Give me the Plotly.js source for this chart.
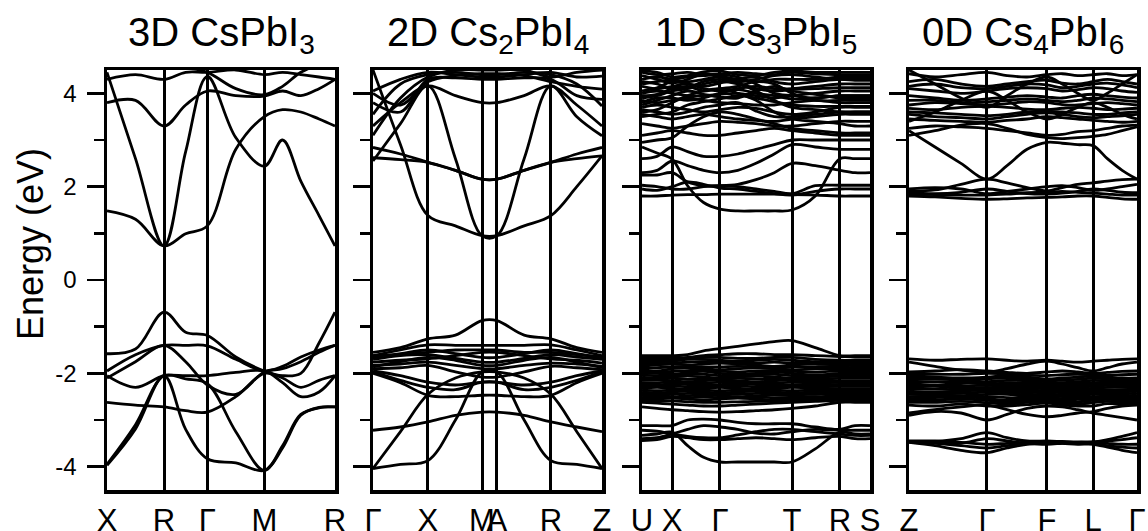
<!DOCTYPE html>
<html><head><meta charset="utf-8">
<script src="https://cdn.plot.ly/plotly-3.0.1.min.js"></script>
<style>html,body{margin:0;padding:0;background:#fff}#plot{width:1148px;height:531px}</style>
</head><body><div id="plot"></div><script>
// ---------- titles & labels ----------
const panelTitles = ['3D CsPbI<sub>3</sub>', '2D Cs<sub>2</sub>PbI<sub>4</sub>', '1D Cs<sub>3</sub>PbI<sub>5</sub>', '0D Cs<sub>4</sub>PbI<sub>6</sub>'];
const yTitle = 'Energy (eV)';
const yTickVals = [-4, -2, 0, 2, 4];
const yTickText = ['-4', '-2', '0', '2', '4'];
const yMinorVals = [-3, -1, 1, 3];

// ---------- 3D CsPbI3 ----------
const hs3D = [0, 0.25, 0.44, 0.69, 1];
const hsLab3D = ['X', 'R', 'Γ', 'M', 'R'];
const k3D = [0, 0.125, 0.25, 0.345, 0.44, 0.565, 0.69, 0.77, 0.85, 0.93, 1.0];
const bands3D = [
  [-1.58, -1.48, -0.69, -1.12, -1.19, -1.65, -1.95, -2.05, -2.0, -1.35, -0.69],
  [-1.95, -1.6, -1.40, -1.40, -1.41, -1.7, -1.95, -1.85, -1.65, -1.5, -1.40],
  [-2.05, -2.3, -2.05, -2.05, -2.05, -1.98, -1.95, -2.2, -2.5, -2.4, -2.05],
  [-2.1, -1.75, -1.40, -1.75, -2.25, -2.45, -1.97, -1.9, -1.75, -1.55, -1.40],
  [-3.97, -3.19, -2.05, -3.2, -3.83, -3.92, -4.08, -3.6, -2.9, -2.73, -2.72],
  [-3.95, -3.1, -2.05, -2.12, -2.22, -3.25, -4.08, -3.55, -2.88, -2.74, -2.72],
  [-2.62, -2.68, -2.72, -2.8, -2.83, -2.5, -2.0, -2.1, -2.3, -2.15, -2.05],
  [1.48, 1.3, 0.73, 0.99, 1.16, 2.8, 3.5, 3.65, 3.6, 3.45, 3.3],
  [4.45, 2.6, 0.73, 2.75, 4.36, 3.05, 2.44, 3.0, 2.12, 1.38, 0.73],
  [3.8, 3.85, 3.3, 3.75, 4.05, 3.95, 3.94, 4.05, 3.95, 4.1, 4.3],
  [4.3, 4.4, 4.3, 4.45, 4.45, 4.5, 4.4, 4.45, 4.4, 4.35, 4.3],
  [4.6, 4.6, 4.6, 4.55, 4.45, 4.1, 3.97, 4.15, 4.45, 4.6, 4.6]
];

// ---------- 2D Cs2PbI4 ----------
const hs2D = [0, 0.24, 0.476, 0.541, 0.777, 1];
const hsLab2D = ['Γ', 'X', 'M', 'A', 'R', 'Z'];
const k2D = [0, 0.12, 0.24, 0.36, 0.476, 0.541, 0.66, 0.777, 0.89, 1.0];
const bands2D = [
  [4.5, 2.9, 1.38, 1.16, 0.95, 0.95, 1.16, 1.38, 2.0, 2.66],
  [2.55, 3.35, 4.16, 2.6, 0.95, 0.95, 2.6, 4.16, 3.5, 3.09],
  [2.62, 2.58, 2.52, 2.35, 2.16, 2.16, 2.35, 2.52, 2.6, 2.66],
  [3.3, 3.8, 4.16, 3.95, 3.80, 3.80, 3.95, 4.16, 3.75, 3.3],
  [2.84, 2.7, 2.52, 2.35, 2.16, 2.16, 2.35, 2.52, 2.7, 2.84],
  [3.55, 4.2, 4.4, 4.45, 4.4, 4.4, 4.45, 4.4, 4.2, 3.73],
  [3.8, 3.6, 4.3, 4.33, 4.3, 4.3, 4.33, 4.3, 3.95, 3.87],
  [4.0, 3.75, 4.25, 4.38, 4.42, 4.42, 4.38, 4.25, 4.15, 4.09],
  [4.05, 4.3, 4.45, 4.4, 4.35, 4.35, 4.4, 4.45, 4.35, 4.37],
  [3.1, 3.9, 4.35, 4.5, 4.5, 4.5, 4.5, 4.35, 4.45, 4.5],
  [-1.55, -1.45, -1.26, -1.18, -0.87, -0.87, -1.18, -1.26, -1.45, -1.55],
  [-1.62, -1.5, -1.39, -1.4, -1.4, -1.4, -1.4, -1.39, -1.5, -1.62],
  [-1.62, -1.6, -1.55, -1.5, -1.5, -1.5, -1.55, -1.55, -1.6, -1.65],
  [-1.7, -1.62, -1.6, -1.68, -1.76, -1.76, -1.68, -1.6, -1.65, -1.7],
  [-1.76, -1.72, -1.69, -1.62, -1.55, -1.55, -1.62, -1.69, -1.72, -1.78],
  [-1.83, -1.8, -1.76, -1.83, -1.9, -1.9, -1.83, -1.78, -1.8, -1.85],
  [-1.9, -1.88, -1.83, -1.97, -2.08, -2.08, -1.97, -1.85, -1.88, -1.92],
  [-1.97, -2.15, -2.3, -2.35, -2.19, -2.19, -2.35, -2.3, -2.15, -1.97],
  [-4.04, -3.25, -2.45, -2.1, -1.97, -1.97, -2.1, -2.45, -3.25, -4.04],
  [-4.04, -3.95, -3.87, -3.0, -1.97, -1.97, -3.0, -3.87, -3.95, -4.04],
  [-3.22, -3.15, -3.04, -2.9, -2.83, -2.83, -2.9, -3.04, -3.15, -3.25],
  [-2.0, -2.2, -2.47, -2.5, -2.47, -2.47, -2.5, -2.47, -2.2, -2.0],
  [-1.95, -2.05, -2.19, -2.25, -2.19, -2.19, -2.25, -2.19, -2.05, -1.95],
  [-1.66, -1.58, -1.5, -1.58, -1.66, -1.66, -1.58, -1.5, -1.58, -1.68],
  [-1.86, -1.75, -1.66, -1.72, -1.83, -1.83, -1.72, -1.66, -1.76, -1.88]
];

// ---------- 1D Cs3PbI5 ----------
const hs1D = [0, 0.132, 0.342, 0.658, 0.868, 1];
const hsLab1D = ['U', 'X', 'Γ', 'T', 'R', 'S'];
const k1D = [0, 0.066, 0.132, 0.20, 0.27, 0.342, 0.42, 0.50, 0.58, 0.658, 0.76, 0.868, 0.934, 1.0];
const bands1D = [
  [2.85, 2.72, 2.59, 2.02, 1.66, 1.52, 1.48, 1.48, 1.48, 1.5, 1.8, 2.6, 2.6, 2.6],
  [1.80, 1.80, 1.82, 1.83, 1.83, 1.84, 1.84, 1.84, 1.84, 1.83, 1.82, 1.80, 1.80, 1.80],
  [2.03, 2.0, 1.95, 1.95, 2.0, 2.02, 2.0, 1.95, 1.9, 1.85, 2.02, 2.03, 2.03, 2.03],
  [1.95, 1.92, 2.0, 2.1, 2.05, 1.97, 1.95, 1.9, 1.85, 1.82, 1.9, 1.95, 1.95, 1.95],
  [2.25, 2.25, 2.3, 2.1, 2.02, 2.02, 2.05, 2.15, 2.3, 2.5, 2.45, 2.35, 2.3, 2.3],
  [2.3, 2.35, 2.55, 2.45, 2.35, 2.3, 2.35, 2.5, 2.7, 2.9, 2.85, 2.8, 2.8, 2.8],
  [2.6, 2.65, 2.85, 2.75, 2.65, 2.65, 2.7, 2.8, 2.9, 3.0, 3.0, 3.0, 3.0, 3.0],
  [3.1, 3.15, 3.2, 3.15, 3.1, 3.1, 3.15, 3.2, 3.25, 3.2, 3.15, 3.1, 3.1, 3.1],
  [3.35, 3.3, 3.25, 3.3, 3.35, 3.4, 3.38, 3.35, 3.3, 3.3, 3.35, 3.4, 3.4, 3.4],
  [3.55, 3.5, 3.45, 3.5, 3.55, 3.5, 3.45, 3.42, 3.4, 3.45, 3.5, 3.55, 3.55, 3.55],
  [3.7, 3.75, 3.7, 3.65, 3.6, 3.65, 3.7, 3.68, 3.6, 3.55, 3.6, 3.7, 3.7, 3.7],
  [3.85, 3.8, 3.85, 3.9, 3.85, 3.8, 3.78, 3.75, 3.75, 3.8, 3.85, 3.8, 3.8, 3.8],
  [4.0, 4.05, 4.0, 3.95, 3.95, 3.98, 4.0, 3.95, 3.9, 3.95, 4.0, 4.05, 4.05, 4.05],
  [4.15, 4.1, 4.15, 4.2, 4.1, 4.05, 4.1, 4.15, 4.1, 4.1, 4.15, 4.2, 4.2, 4.2],
  [4.3, 4.35, 4.3, 4.25, 4.3, 4.35, 4.3, 4.25, 4.3, 4.3, 4.3, 4.35, 4.35, 4.35],
  [4.45, 4.4, 4.42, 4.45, 4.4, 4.42, 4.45, 4.42, 4.4, 4.45, 4.42, 4.4, 4.4, 4.4],
  [4.2, 4.25, 4.3, 4.35, 4.38, 4.4, 4.35, 4.2, 4.0, 3.95, 3.9, 3.95, 3.95, 3.95],
  [3.9, 3.95, 4.05, 4.1, 4.2, 4.25, 4.2, 4.05, 3.85, 3.7, 3.65, 3.6, 3.6, 3.6],
  [3.6, 3.65, 3.8, 3.95, 4.05, 4.1, 4.0, 3.85, 3.6, 3.45, 3.4, 3.35, 3.3, 3.3],
  [2.95, 3.0, 3.05, 3.3, 3.5, 3.6, 3.55, 3.45, 3.35, 3.25, 3.2, 3.15, 3.15, 3.15],
  [4.38, 4.3, 4.22, 4.3, 4.42, 4.35, 4.25, 4.3, 4.38, 4.4, 4.35, 4.3, 4.3, 4.3],
  [4.05, 4.12, 4.25, 4.2, 4.15, 4.22, 4.3, 4.35, 4.25, 4.2, 4.25, 4.3, 4.28, 4.28],
  [3.75, 3.85, 3.95, 4.05, 3.98, 3.92, 3.9, 4.05, 4.15, 4.05, 3.98, 3.9, 3.9, 3.9],
  [3.5, 3.55, 3.6, 3.75, 3.82, 3.88, 3.95, 3.9, 3.82, 3.75, 3.72, 3.72, 3.72, 3.72],
  [4.48, 4.45, 4.35, 4.38, 4.46, 4.48, 4.4, 4.38, 4.45, 4.48, 4.45, 4.45, 4.45, 4.45],
  [4.25, 4.2, 4.1, 4.12, 4.25, 4.3, 4.22, 4.1, 4.05, 4.08, 4.1, 4.12, 4.12, 4.12],
  [3.95, 3.98, 4.1, 4.15, 4.05, 4.1, 4.15, 4.25, 4.2, 4.0, 3.85, 3.85, 3.85, 3.85],
  [3.8, 3.9, 3.9, 3.85, 3.9, 4.0, 4.08, 4.0, 3.95, 3.88, 3.9, 3.95, 3.95, 3.95],
  [3.65, 3.6, 3.55, 3.6, 3.7, 3.75, 3.8, 3.62, 3.5, 3.5, 3.55, 3.6, 3.6, 3.6],
  [-1.62, -1.62, -1.62, -1.6, -1.52, -1.47, -1.42, -1.37, -1.32, -1.30, -1.45, -1.62, -1.62, -1.62],
  [-1.68, -1.68, -1.66, -1.66, -1.62, -1.6, -1.58, -1.58, -1.6, -1.6, -1.62, -1.64, -1.65, -1.65],
  [-1.76, -1.76, -1.74, -1.7, -1.7, -1.72, -1.74, -1.72, -1.7, -1.72, -1.75, -1.76, -1.76, -1.76],
  [-1.85, -1.82, -1.8, -1.82, -1.8, -1.78, -1.8, -1.82, -1.85, -1.82, -1.8, -1.82, -1.84, -1.84],
  [-1.92, -1.95, -1.9, -1.88, -1.9, -1.92, -1.9, -1.88, -1.9, -1.93, -1.9, -1.9, -1.92, -1.92],
  [-2.0, -2.0, -2.02, -1.98, -1.96, -2.0, -2.02, -2.0, -1.97, -2.0, -2.03, -2.0, -1.98, -1.98],
  [-2.08, -2.1, -2.08, -2.06, -2.08, -2.1, -2.08, -2.06, -2.08, -2.1, -2.08, -2.06, -2.06, -2.06],
  [-2.15, -2.14, -2.16, -2.18, -2.16, -2.14, -2.16, -2.18, -2.16, -2.14, -2.15, -2.16, -2.16, -2.16],
  [-2.24, -2.25, -2.22, -2.24, -2.26, -2.24, -2.22, -2.24, -2.26, -2.24, -2.23, -2.24, -2.24, -2.24],
  [-2.32, -2.3, -2.32, -2.34, -2.32, -2.3, -2.32, -2.34, -2.32, -2.3, -2.32, -2.33, -2.33, -2.33],
  [-2.4, -2.42, -2.4, -2.38, -2.4, -2.42, -2.4, -2.38, -2.4, -2.42, -2.4, -2.4, -2.4, -2.4],
  [-2.48, -2.47, -2.5, -2.48, -2.46, -2.48, -2.5, -2.48, -2.46, -2.48, -2.5, -2.48, -2.48, -2.48],
  [-2.56, -2.55, -2.53, -2.55, -2.57, -2.55, -2.53, -2.55, -2.57, -2.55, -2.53, -2.5, -2.5, -2.5],
  [-2.72, -2.75, -2.78, -2.8, -2.82, -2.83, -2.82, -2.8, -2.78, -2.75, -2.7, -2.62, -2.62, -2.62],
  [-2.62, -2.64, -2.66, -2.68, -2.7, -2.7, -2.68, -2.66, -2.64, -2.62, -2.6, -2.58, -2.58, -2.58],
  [-1.72, -1.72, -1.7, -1.68, -1.66, -1.66, -1.68, -1.68, -1.66, -1.66, -1.7, -1.72, -1.72, -1.72],
  [-1.8, -1.8, -1.78, -1.76, -1.75, -1.76, -1.78, -1.78, -1.76, -1.78, -1.78, -1.8, -1.8, -1.8],
  [-1.88, -1.88, -1.86, -1.85, -1.86, -1.86, -1.85, -1.86, -1.88, -1.87, -1.86, -1.86, -1.88, -1.88],
  [-1.96, -1.97, -1.96, -1.94, -1.93, -1.96, -1.97, -1.95, -1.94, -1.96, -1.97, -1.95, -1.95, -1.95],
  [-2.04, -2.05, -2.05, -2.02, -2.02, -2.05, -2.05, -2.03, -2.02, -2.05, -2.06, -2.03, -2.02, -2.02],
  [-2.12, -2.12, -2.11, -2.13, -2.12, -2.12, -2.11, -2.12, -2.13, -2.12, -2.12, -2.11, -2.11, -2.11],
  [-2.2, -2.2, -2.19, -2.21, -2.21, -2.19, -2.19, -2.21, -2.21, -2.19, -2.19, -2.2, -2.2, -2.2],
  [-2.28, -2.28, -2.27, -2.29, -2.29, -2.27, -2.27, -2.29, -2.29, -2.27, -2.28, -2.28, -2.28, -2.28],
  [-2.36, -2.37, -2.36, -2.35, -2.36, -2.37, -2.36, -2.35, -2.36, -2.37, -2.36, -2.36, -2.36, -2.36],
  [-2.44, -2.45, -2.45, -2.43, -2.43, -2.45, -2.45, -2.43, -2.43, -2.45, -2.45, -2.44, -2.44, -2.44],
  [-2.52, -2.51, -2.52, -2.52, -2.51, -2.52, -2.52, -2.51, -2.52, -2.52, -2.51, -2.54, -2.54, -2.54],
  [-2.6, -2.6, -2.59, -2.61, -2.62, -2.62, -2.61, -2.6, -2.6, -2.59, -2.57, -2.55, -2.55, -2.55],
  [-3.33, -3.3, -3.26, -3.55, -3.8, -3.9, -3.9, -3.9, -3.9, -3.9, -3.62, -3.26, -3.3, -3.3],
  [-3.12, -3.12, -3.12, -3.0, -2.98, -3.0, -3.05, -3.08, -3.08, -3.08, -3.15, -3.2, -3.12, -3.12],
  [-3.4, -3.38, -3.3, -3.2, -3.12, -3.15, -3.2, -3.28, -3.3, -3.25, -3.2, -3.22, -3.22, -3.22],
  [-3.22, -3.24, -3.3, -3.35, -3.38, -3.38, -3.32, -3.25, -3.2, -3.2, -3.25, -3.3, -3.33, -3.33],
  [-3.44, -3.42, -3.35, -3.38, -3.42, -3.42, -3.4, -3.38, -3.4, -3.42, -3.38, -3.35, -3.4, -3.4]
];

// ---------- 0D Cs4PbI6 ----------
const hs0D = [0, 0.342, 0.605, 0.807, 1];
const hsLab0D = ['Z', 'Γ', 'F', 'L', 'Γ'];
const k0D = [0, 0.114, 0.228, 0.342, 0.43, 0.518, 0.605, 0.672, 0.74, 0.807, 0.87, 0.935, 1.0];
const bands0D = [
  [3.2, 2.85, 2.5, 2.16, 2.45, 2.8, 2.95, 2.93, 2.9, 2.88, 2.6, 2.35, 2.16],
  [1.91, 1.93, 2.05, 2.16, 2.08, 1.98, 1.91, 1.98, 2.05, 2.08, 2.12, 2.15, 2.16],
  [1.80, 1.78, 1.75, 1.73, 1.74, 1.76, 1.77, 1.78, 1.8, 1.8, 1.77, 1.74, 1.73],
  [1.87, 1.85, 1.88, 1.95, 1.9, 1.85, 1.84, 1.86, 1.9, 1.95, 1.92, 1.88, 1.87],
  [1.95, 1.98, 1.95, 1.85, 1.9, 1.95, 2.0, 2.02, 1.98, 1.92, 1.95, 2.0, 2.05],
  [1.84, 1.83, 1.82, 1.82, 1.84, 1.87, 1.88, 1.9, 1.88, 1.86, 1.84, 1.82, 1.82],
  [3.1, 3.2, 3.32, 3.35, 3.25, 3.12, 3.05, 3.03, 3.05, 3.08, 3.12, 3.2, 3.28],
  [3.25, 3.3, 3.28, 3.25, 3.2, 3.15, 3.1, 3.12, 3.18, 3.2, 3.25, 3.3, 3.32],
  [3.45, 3.42, 3.4, 3.38, 3.42, 3.45, 3.5, 3.48, 3.45, 3.42, 3.4, 3.38, 3.4],
  [3.6, 3.58, 3.55, 3.52, 3.55, 3.6, 3.62, 3.6, 3.58, 3.55, 3.55, 3.58, 3.6],
  [3.68, 3.65, 3.7, 3.72, 3.7, 3.66, 3.65, 3.68, 3.7, 3.68, 3.65, 3.66, 3.68],
  [3.75, 3.8, 3.78, 3.75, 3.78, 3.82, 3.8, 3.76, 3.75, 3.78, 3.8, 3.78, 3.75],
  [3.95, 3.9, 3.85, 3.88, 3.92, 3.95, 3.92, 3.9, 3.95, 3.98, 3.95, 3.92, 3.9],
  [4.1, 4.05, 4.0, 4.05, 4.1, 4.12, 4.1, 4.05, 4.08, 4.12, 4.1, 4.05, 4.02],
  [4.25, 4.3, 4.2, 4.15, 4.2, 4.25, 4.28, 4.22, 4.2, 4.25, 4.3, 4.25, 4.2],
  [4.42, 4.35, 4.4, 4.45, 4.38, 4.35, 4.4, 4.42, 4.38, 4.4, 4.42, 4.38, 4.4],
  [4.5, 4.2, 3.9, 3.7, 3.95, 4.2, 4.35, 4.2, 4.0, 3.85, 4.0, 4.2, 4.4],
  [3.4, 3.6, 3.85, 4.05, 3.85, 3.6, 3.45, 3.55, 3.7, 3.8, 3.7, 3.55, 3.45],
  [3.55, 3.5, 3.48, 3.45, 3.5, 3.55, 3.58, 3.55, 3.5, 3.48, 3.5, 3.52, 3.55],
  [3.85, 3.85, 3.8, 3.82, 3.85, 3.88, 3.85, 3.82, 3.85, 3.9, 3.88, 3.85, 3.82],
  [4.15, 4.2, 4.12, 4.1, 4.15, 4.2, 4.18, 4.12, 4.15, 4.2, 4.22, 4.18, 4.12],
  [-1.69, -1.72, -1.7, -1.69, -1.72, -1.74, -1.72, -1.74, -1.76, -1.74, -1.72, -1.7, -1.69],
  [-1.76, -1.85, -1.93, -1.97, -1.9, -1.8, -1.74, -1.8, -1.88, -1.95, -1.88, -1.8, -1.76],
  [-1.97, -1.95, -1.92, -1.95, -1.98, -2.0, -1.97, -1.95, -1.97, -2.0, -1.98, -1.96, -1.95],
  [-2.05, -2.08, -2.1, -2.08, -2.05, -2.08, -2.12, -2.1, -2.08, -2.06, -2.08, -2.1, -2.1],
  [-2.15, -2.12, -2.15, -2.18, -2.15, -2.16, -2.18, -2.2, -2.18, -2.15, -2.16, -2.18, -2.18],
  [-2.22, -2.25, -2.22, -2.2, -2.24, -2.26, -2.25, -2.28, -2.26, -2.24, -2.22, -2.24, -2.25],
  [-2.3, -2.28, -2.32, -2.3, -2.32, -2.34, -2.32, -2.35, -2.34, -2.32, -2.3, -2.3, -2.32],
  [-2.38, -2.4, -2.38, -2.36, -2.38, -2.42, -2.4, -2.42, -2.4, -2.38, -2.4, -2.4, -2.38],
  [-2.45, -2.46, -2.48, -2.45, -2.45, -2.5, -2.48, -2.5, -2.48, -2.45, -2.46, -2.48, -2.46],
  [-2.54, -2.52, -2.5, -2.54, -2.58, -2.56, -2.55, -2.58, -2.56, -2.54, -2.52, -2.54, -2.55],
  [-2.62, -2.62, -2.6, -2.63, -2.66, -2.62, -2.6, -2.64, -2.66, -2.63, -2.6, -2.62, -2.62],
  [-2.01, -2.02, -2.02, -2.0, -2.01, -2.04, -2.05, -2.03, -2.02, -2.03, -2.04, -2.03, -2.02],
  [-2.1, -2.1, -2.12, -2.12, -2.1, -2.12, -2.15, -2.15, -2.13, -2.1, -2.12, -2.14, -2.14],
  [-2.18, -2.18, -2.18, -2.24, -2.2, -2.21, -2.22, -2.24, -2.22, -2.2, -2.19, -2.21, -2.21],
  [-2.26, -2.26, -2.27, -2.26, -2.28, -2.3, -2.28, -2.31, -2.3, -2.28, -2.26, -2.27, -2.28],
  [-2.34, -2.34, -2.35, -2.33, -2.35, -2.38, -2.36, -2.38, -2.37, -2.35, -2.35, -2.35, -2.35],
  [-2.42, -2.43, -2.43, -2.4, -2.42, -2.46, -2.44, -2.46, -2.44, -2.42, -2.43, -2.44, -2.42],
  [-2.5, -2.49, -2.49, -2.5, -2.52, -2.53, -2.52, -2.54, -2.52, -2.5, -2.49, -2.51, -2.5],
  [-2.58, -2.57, -2.55, -2.58, -2.62, -2.59, -2.58, -2.61, -2.61, -2.58, -2.56, -2.58, -2.58],
  [-2.68, -2.7, -2.66, -2.7, -2.7, -2.67, -2.64, -2.68, -2.7, -2.7, -2.65, -2.66, -2.66],
  [-2.9, -2.82, -2.85, -3.0, -2.88, -2.75, -2.7, -2.72, -2.78, -2.85, -2.9, -2.95, -3.0],
  [-2.85, -2.78, -2.72, -2.68, -2.78, -2.88, -2.93, -2.9, -2.85, -2.82, -2.75, -2.7, -2.68],
  [-3.47, -3.46, -3.4, -3.27, -3.38, -3.45, -3.45, -3.46, -3.47, -3.47, -3.42, -3.35, -3.27],
  [-3.48, -3.55, -3.65, -3.7, -3.6, -3.52, -3.49, -3.5, -3.52, -3.52, -3.58, -3.65, -3.7],
  [-3.47, -3.48, -3.5, -3.4, -3.45, -3.5, -3.52, -3.5, -3.48, -3.47, -3.45, -3.42, -3.38],
  [-3.47, -3.5, -3.55, -3.6, -3.55, -3.5, -3.48, -3.48, -3.5, -3.5, -3.55, -3.58, -3.6],
  [-3.45, -3.45, -3.48, -3.52, -3.5, -3.48, -3.46, -3.47, -3.48, -3.48, -3.5, -3.52, -3.52]
];

// ---------- build ----------
const FONT = 'Liberation Sans, Arial, Helvetica, sans-serif';
const panels = [
  {k: k3D, bands: bands3D, hs: hs3D, lab: hsLab3D},
  {k: k2D, bands: bands2D, hs: hs2D, lab: hsLab2D},
  {k: k1D, bands: bands1D, hs: hs1D, lab: hsLab1D},
  {k: k0D, bands: bands0D, hs: hs0D, lab: hsLab0D}
];
// pixel layout: plot spans x 107..1137, y 70..490
const L = 107, R = 11, T = 70, B = 41, W = 1148, H = 531;
const PW = W - L - R, PH = H - T - B;
const panelPx = [[107, 335], [373, 602], [642, 870], [909, 1137]];

const traces = [];
const layout = {
  width: W, height: H,
  margin: {l: L, r: R, t: T, b: B, pad: 0},
  paper_bgcolor: '#fff', plot_bgcolor: '#fff',
  showlegend: false,
  font: {family: FONT, color: '#000'},
  annotations: []
};

panels.forEach((p, i) => {
  const xa = i === 0 ? 'x' : 'x' + (i + 1);
  const ya = i === 0 ? 'y' : 'y' + (i + 1);
  p.bands.forEach(b => {
    traces.push({
      x: p.k, y: b, xaxis: xa, yaxis: ya, type: 'scatter', mode: 'lines',
      line: {color: '#000', width: 2.8, shape: 'spline', smoothing: 1},
      hoverinfo: 'skip', showlegend: false
    });
  });
  const d0 = (panelPx[i][0] - L) / PW, d1 = (panelPx[i][1] - L) / PW;
  layout[i === 0 ? 'xaxis' : 'xaxis' + (i + 1)] = {
    domain: [d0, Math.min(d1, 1)], range: [0, 1], anchor: ya,
    tickmode: 'array', tickvals: p.hs, ticktext: p.lab, tickangle: 0,
    showgrid: true, gridcolor: '#000', gridwidth: 3,
    ticks: '', showline: true, mirror: true, linecolor: '#000', linewidth: 3.5,
    zeroline: false, tickfont: {size: 31, family: FONT, color: '#000'},
    fixedrange: true
  };
  layout[i === 0 ? 'yaxis' : 'yaxis' + (i + 1)] = {
    domain: [0, 1], range: [-4.5, 4.5], anchor: xa,
    tickmode: 'array', tickvals: yTickVals, ticktext: yTickText,
    ticks: 'outside', ticklen: 17, tickwidth: 2.8, tickcolor: '#000',
    minor: {tickmode: 'array', tickvals: yMinorVals, ticks: 'outside', ticklen: 10, tickwidth: 2.8, tickcolor: '#000', showgrid: false},
    showticklabels: i === 0, tickfont: {size: 24, family: FONT, color: '#000'},
    ticklabelstandoff: 5,
    showline: true, mirror: true, linecolor: '#000', linewidth: 3.5,
    showgrid: false, zeroline: false, fixedrange: true
  };
  layout.annotations.push({
    text: panelTitles[i], xref: xa + ' domain', yref: 'paper',
    x: 0.5, y: (490 - 35) / PH, xanchor: 'center', yanchor: 'middle',
    showarrow: false, font: {size: 40, family: FONT, color: '#000'}
  });
});
layout.annotations.push({
  text: yTitle, xref: 'paper', yref: 'paper',
  x: (30 - L) / PW, y: (490 - 244) / PH, xanchor: 'center', yanchor: 'middle',
  textangle: -90, showarrow: false, font: {size: 36, family: FONT, color: '#000'}
});

Plotly.newPlot('plot', traces, layout, {staticPlot: true, displayModeBar: false});
</script></body></html>
